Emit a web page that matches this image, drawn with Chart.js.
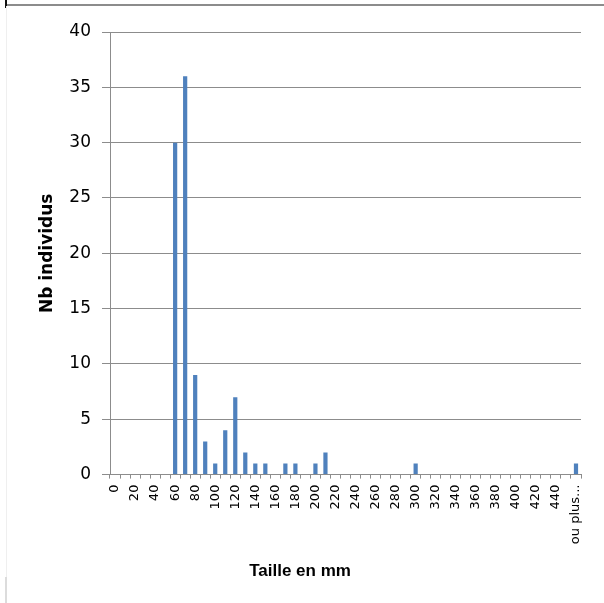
<!DOCTYPE html>
<html>
<head>
<meta charset="utf-8">
<script src="https://cdn.jsdelivr.net/npm/chart.js@4"></script>
<style>
  html, body { margin: 0; padding: 0; background: #fff; }
  #wrap { position: relative; width: 604px; height: 603px; }
  .edge { position: absolute; }
  #edgeTop { left: 7px; top: 4px; right: 0; height: 2px; background: #8c8c8c; }
  #edgeCorner { left: 5px; top: 0; width: 2px; height: 8px; background: #111; }
  #edgeLeft { left: 6px; top: 6px; width: 1px; bottom: 0; background: #efefef; }
  #edgeLeftLow { left: 5px; top: 577px; width: 2px; bottom: 0; background: #dcdcdc; }
</style>
</head>
<body>
<div id="wrap">
  <canvas id="histChart" width="604" height="603"></canvas>
  <div class="edge" id="edgeTop"></div>
  <div class="edge" id="edgeCorner"></div>
  <div class="edge" id="edgeLeft"></div>
  <div class="edge" id="edgeLeftLow"></div>
</div>
<script>
// size classes (mm)
const categories = [
  "0", "10", "20", "30", "40", "50", "60", "70", "80", "90",
  "100", "110", "120", "130", "140", "150", "160", "170", "180", "190",
  "200", "210", "220", "230", "240", "250", "260", "270", "280", "290",
  "300", "310", "320", "330", "340", "350", "360", "370", "380", "390",
  "400", "410", "420", "430", "440", "450", "ou plus..."
];
// number of individuals per class
const counts = [
  0, 0, 0, 0, 0, 0, 30, 36, 9, 3,
  1, 4, 7, 2, 1, 1, 0, 1, 1, 0,
  1, 2, 0, 0, 0, 0, 0, 0, 0, 0,
  1, 0, 0, 0, 0, 0, 0, 0, 0, 0,
  0, 0, 0, 0, 0, 0, 1
];
const yMin = 0, yMax = 40, yStep = 5;
const xTitle = "Taille en mm";
const yTitle = "Nb individus";

const gridGray = "#8c8c8c";

const ctx = document.getElementById("histChart").getContext("2d");
new Chart(ctx, {
  type: "bar",
  data: {
    labels: categories,
    datasets: [{
      label: yTitle,
      data: counts,
      backgroundColor: "#4F81BD",
      barPercentage: 0.42,
      categoryPercentage: 1
    }]
  },
  options: {
    responsive: false,
    animation: false,
    layout: { padding: { left: 19, right: 23, top: 32, bottom: 21 } },
    plugins: {
      legend: { display: false },
      tooltip: { enabled: false },
      title: {
        display: true,
        text: xTitle,
        position: "bottom",
        color: "#000",
        font: { family: "Liberation Sans", size: 17, weight: "bold" },
        padding: { top: 0, bottom: 0 }
      }
    },
    scales: {
      x: {
        afterFit: (s) => { s.height = 87; },
        grid: { display: true, drawOnChartArea: false, drawTicks: true, tickLength: 4, offset: true, color: gridGray },
        border: { display: true, color: gridGray, width: 1 },
        ticks: {
          autoSkip: false,
          minRotation: 90,
          maxRotation: 90,
          padding: 6,
          color: "#000",
          font: { family: "DejaVu Sans", size: 13 },
          callback: (v, i) => (i % 2 === 0 ? categories[i] : "")
        }
      },
      y: {
        min: yMin,
        max: yMax,
        afterFit: (s) => { s.width = 91; },
        grid: { color: gridGray, drawTicks: true, tickLength: 8 },
        border: { display: true, color: gridGray, width: 1 },
        ticks: {
          stepSize: yStep,
          padding: 11,
          color: "#000",
          font: { family: "DejaVu Sans", size: 17 }
        },
        title: {
          display: true,
          text: yTitle,
          color: "#000",
          font: { family: "DejaVu Sans", size: 17, weight: "bold" },
          padding: { top: 18, bottom: 0 }
        }
      }
    }
  }
});
</script>
</body>
</html>
